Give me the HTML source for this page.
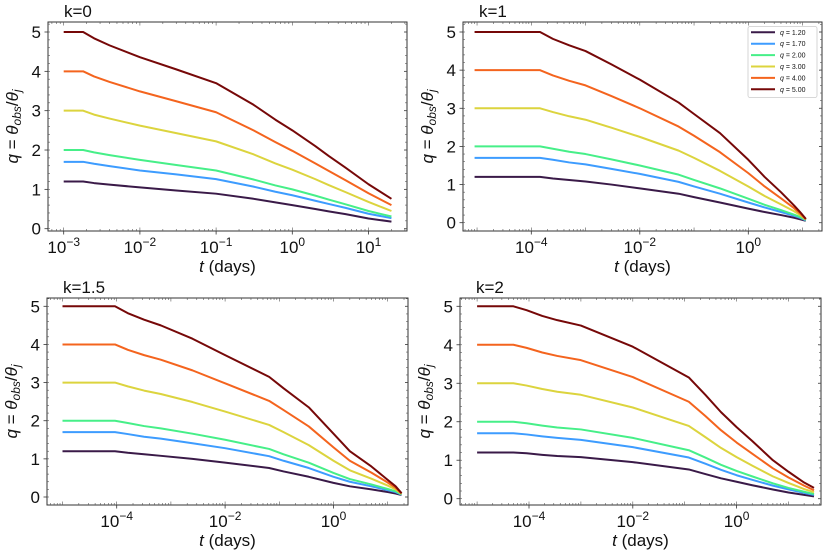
<!DOCTYPE html>
<html><head><meta charset="utf-8">
<style>
html,body{margin:0;padding:0;background:#fff;}
svg{display:block;font-family:"Liberation Sans","DejaVu Sans",sans-serif;}
</style></head>
<body>
<svg id="fig" width="831" height="557" viewBox="0 0 831 557" xmlns="http://www.w3.org/2000/svg"></svg>
<script>
// ---- data ----
const qLabels = ["1.20","1.70","2.00","3.00","4.00","5.00"];
const k0Times = [1e-3,1.8e-3,2.5e-3,4e-3,1e-2,3e-2,0.1,0.31,0.6,1,2,3,5,10,20];
const k0Q12 = [1.2,1.2,1.16,1.12,1.05,0.97,0.89,0.76,0.67,0.6,0.5,0.44,0.37,0.26,0.18];
const k0Q17 = [1.7,1.7,1.65,1.59,1.48,1.38,1.26,1.07,0.94,0.85,0.71,0.63,0.53,0.38,0.27];
const k0Q20 = [2,2,1.94,1.87,1.75,1.62,1.48,1.25,1.1,1.0,0.84,0.74,0.62,0.45,0.31];
const k0Q30 = [3,3,2.9,2.8,2.62,2.43,2.22,1.89,1.66,1.5,1.26,1.11,0.93,0.68,0.45];
const k0Q40 = [4,4,3.87,3.73,3.49,3.24,2.96,2.5,2.2,1.98,1.66,1.47,1.23,0.9,0.6];
const k0Q50 = [5,5,4.84,4.66,4.36,4.05,3.7,3.15,2.77,2.5,2.1,1.85,1.55,1.13,0.76];

const k1Times = [9e-6,1.45e-4,2.5e-4,5e-4,1e-3,3e-3,1e-2,0.052,0.1,0.3,1,2,4,7,9,11.5];
const k1Q12 = [1.2,1.2,1.16,1.12,1.08,1.0,0.9,0.76,0.67,0.53,0.37,0.28,0.2,0.13,0.09,0.05];
const k1Q17 = [1.7,1.7,1.65,1.58,1.53,1.41,1.28,1.07,0.95,0.76,0.53,0.4,0.28,0.18,0.13,0.06];
const k1Q20 = [2,2,1.94,1.86,1.8,1.66,1.5,1.26,1.12,0.9,0.63,0.47,0.33,0.21,0.15,0.07];
const k1Q30 = [3,3,2.9,2.79,2.7,2.49,2.25,1.89,1.7,1.36,0.95,0.7,0.48,0.3,0.2,0.08];
const k1Q40 = [4,4,3.86,3.72,3.6,3.32,3.0,2.52,2.28,1.85,1.3,0.95,0.64,0.38,0.24,0.09];
const k1Q50 = [5,5,4.82,4.65,4.5,4.15,3.75,3.15,2.85,2.35,1.65,1.2,0.8,0.45,0.28,0.1];

const k15Times = [1e-5,9.3e-5,1.6e-4,3.2e-4,6.5e-4,2.5e-3,1e-2,0.065,0.12,0.35,1,2,5,10,14,18];
const k15Q12 = [1.2,1.2,1.16,1.12,1.08,1.0,0.9,0.76,0.67,0.53,0.37,0.28,0.2,0.13,0.09,0.05];
const k15Q17 = [1.7,1.7,1.65,1.58,1.53,1.41,1.28,1.07,0.95,0.76,0.53,0.4,0.28,0.18,0.13,0.06];
const k15Q20 = [2,2,1.94,1.86,1.8,1.66,1.5,1.26,1.12,0.9,0.63,0.47,0.33,0.21,0.15,0.07];
const k15Q30 = [3,3,2.9,2.79,2.7,2.49,2.24,1.89,1.7,1.36,0.95,0.7,0.48,0.3,0.2,0.08];
const k15Q40 = [4,4,3.86,3.72,3.6,3.32,2.98,2.52,2.28,1.85,1.3,0.95,0.64,0.38,0.24,0.09];
const k15Q50 = [5,5,4.82,4.65,4.5,4.15,3.72,3.15,2.85,2.35,1.66,1.2,0.8,0.45,0.28,0.1];

const k2Times = [1e-5,5e-5,9e-5,1.8e-4,3.5e-4,1e-3,1e-2,0.12,0.25,0.5,1,2,5,10,20,31];
const k2Q12 = [1.2,1.2,1.18,1.14,1.11,1.08,0.95,0.76,0.64,0.53,0.44,0.35,0.24,0.16,0.1,0.06];
const k2Q17 = [1.7,1.7,1.67,1.62,1.58,1.53,1.34,1.07,0.91,0.75,0.61,0.49,0.34,0.24,0.15,0.1];
const k2Q20 = [2,2,1.96,1.9,1.85,1.8,1.58,1.26,1.07,0.88,0.72,0.58,0.4,0.28,0.18,0.12];
const k2Q30 = [3,3,2.94,2.85,2.78,2.7,2.37,1.89,1.6,1.32,1.08,0.86,0.58,0.41,0.25,0.17];
const k2Q40 = [4,4,3.92,3.8,3.71,3.6,3.16,2.52,2.15,1.78,1.46,1.17,0.79,0.55,0.34,0.22];
const k2Q50 = [5,5,4.9,4.75,4.64,4.5,3.95,3.15,2.7,2.25,1.86,1.5,1.0,0.7,0.42,0.28];

const yTicks = [0,1,2,3,4,5];
const k0XTicks = [-3,-2,-1,0,1];
const otherXTicks = [-4,-2,0];

// ---- drawing ----
const NS="http://www.w3.org/2000/svg";
const svg=document.getElementById('fig');
const colors=["#3a1a48","#3d9cff","#46ef88","#dcd43e","#f4641e","#760808"];
function mk(tag,attrs,parent){const e=document.createElementNS(NS,tag);for(const k in attrs)e.setAttribute(k,attrs[k]);(parent||svg).appendChild(e);return e;}

const panels=[
 {name:"k0",title:"k=0",box:[48,22,407,231],y0:228.7,y5:32,xa:-3,xpa:63.7,xppd:76.2,xmin:-3.22,xmax:1.5,times:k0Times,series:[k0Q12,k0Q17,k0Q20,k0Q30,k0Q40,k0Q50],xt:k0XTicks,legend:false},
 {name:"k1",title:"k=1",box:[463,22,822,231],y0:222.7,y5:32,xa:-4,xpa:531.3,xppd:54.25,xmin:-5.25,xmax:1.35,times:k1Times,series:[k1Q12,k1Q17,k1Q20,k1Q30,k1Q40,k1Q50],xt:otherXTicks,legend:true},
 {name:"k1p5",title:"k=1.5",box:[47,298,408,505],y0:497,y5:306.3,xa:-4,xpa:116.7,xppd:54.2,xmin:-5.3,xmax:1.4,times:k15Times,series:[k15Q12,k15Q17,k15Q20,k15Q30,k15Q40,k15Q50],xt:otherXTicks,legend:false},
 {name:"k2",title:"k=2",box:[460,298,821,505],y0:498.7,y5:306.3,xa:-4,xpa:529,xppd:51.9,xmin:-5.3,xmax:1.7,times:k2Times,series:[k2Q12,k2Q17,k2Q20,k2Q30,k2Q40,k2Q50],xt:otherXTicks,legend:false}
];

panels.forEach(p=>{
  const g=mk('g',{});
  
  
  const [L,T,R,B]=p.box;
  const X=v=>p.xpa+(Math.log10(v)-p.xa)*p.xppd;
  const XL=lv=>p.xpa+(lv-p.xa)*p.xppd;
  const Y=v=>p.y0+(p.y5-p.y0)*v/5;
  p.series.forEach((s,i)=>{
    const d=s.map((v,j)=>(j?'L':'M')+X(p.times[j]).toFixed(2)+' '+Y(v).toFixed(2)).join(' ');
    const path=mk('path',{d:d,fill:'none',stroke:colors[i],'stroke-width':2,'stroke-linejoin':'round'},g);
    
    
  });
  const fr=mk('rect',{x:L,y:T,width:R-L,height:B-T,fill:'none',stroke:'#333','stroke-width':1},g);
  
  
  yTicks.forEach(v=>{
    const y=Y(v);
    mk('line',{x1:L-3.5,x2:L,y1:y,y2:y,stroke:'#333','stroke-width':0.8},g);
    mk('line',{x1:R,x2:R-3,y1:y,y2:y,stroke:'#333','stroke-width':0.8},g);
    const t=mk('text',{x:L-7,y:y+6,'text-anchor':'end','font-size':17,fill:'#111'},g);
    t.textContent=v;
    
    
  });
  for(let v=0;v<=5.21;v+=0.2){const y=Y(v);if(y<T||y>B)continue;
    mk('line',{x1:L,x2:L+2,y1:y,y2:y,stroke:'#555','stroke-width':0.6},g);
    mk('line',{x1:R,x2:R-2,y1:y,y2:y,stroke:'#555','stroke-width':0.6},g);}
  for(let d=Math.floor(p.xmin);d<=Math.ceil(p.xmax);d++){
    for(let m=1;m<10;m++){const x=XL(d+Math.log10(m));if(x<L||x>R)continue;
      const len=m===1?3.5:2;
      mk('line',{x1:x,x2:x,y1:B,y2:B-len,stroke:'#555','stroke-width':0.6},g);
      mk('line',{x1:x,x2:x,y1:T,y2:T+len,stroke:'#555','stroke-width':0.6},g);}
  }
  p.xt.forEach(e=>{
    const x=XL(e);
    mk('line',{x1:x,x2:x,y1:B,y2:B+3.5,stroke:'#333','stroke-width':0.8},g);
    const t=mk('text',{x:x,y:B+22,'text-anchor':'middle','font-size':17,fill:'#111'},g);
    
    
    t.appendChild(document.createTextNode('10'));
    const ts=mk('tspan',{dy:-7,'font-size':12},t);ts.textContent=(e<0?'\u2212':'')+Math.abs(e);
  });
  const xl=mk('text',{x:(L+R)/2,y:B+41,'text-anchor':'middle','font-size':17,fill:'#111'},g);
  
  
  const ti=mk('tspan',{'font-style':'italic'},xl);ti.textContent='t';
  xl.appendChild(document.createTextNode(' (days)'));
  const yc=(T+B)/2;
  const yl=mk('text',{x:0,y:0,'text-anchor':'middle','font-size':17,fill:'#111',transform:`translate(${L-30},${yc}) rotate(-90)`},g);
  
  
  const a=mk('tspan',{'font-style':'italic'},yl);a.textContent='q';
  yl.appendChild(document.createTextNode(' = '));
  const b=mk('tspan',{'font-style':'italic'},yl);b.textContent='θ';
  const c=mk('tspan',{'font-style':'italic','font-size':12,dy:3},yl);c.textContent='obs';
  const d=mk('tspan',{dy:-3},yl);d.textContent='/';
  const e2=mk('tspan',{'font-style':'italic'},yl);e2.textContent='θ';
  const f=mk('tspan',{'font-style':'italic','font-size':12,dy:3},yl);f.textContent='j';
  const tt=mk('text',{x:L+16,y:T-5,'font-size':17,fill:'#111'},g);
  tt.textContent=p.title;
  
  
  if(p.legend){
    const lg=mk('g',{},g);
    
    
    mk('rect',{x:748,y:26.5,width:69,height:71,fill:'#fff',stroke:'#ccc','stroke-width':0.8,rx:2},lg);
    qLabels.forEach((q,i)=>{
      const y=32.3+i*11.4;
      const en=mk('g',{},lg);
      
      
      mk('line',{x1:751,x2:775,y1:y,y2:y,stroke:colors[i],'stroke-width':2},en);
      const t=mk('text',{x:780,y:y+2.5,'font-size':7,fill:'#111'},en);
      const qi=mk('tspan',{'font-style':'italic'},t);qi.textContent='q';
      t.appendChild(document.createTextNode(' = '+q));
    });
  }
});
</script>
</body></html>
